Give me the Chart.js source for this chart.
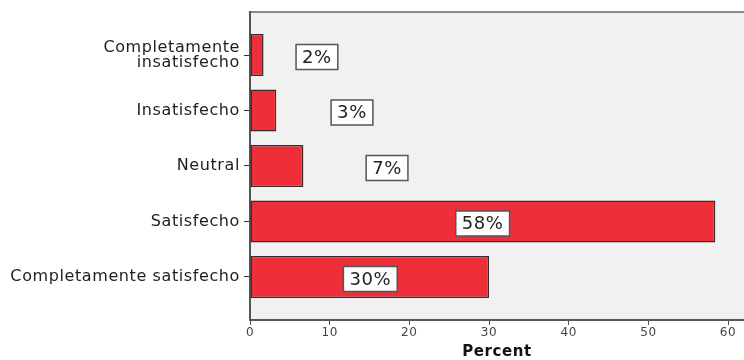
<!DOCTYPE html>
<html>
<head>
<meta charset="utf-8">
<script src="https://cdn.jsdelivr.net/npm/chart.js@4"></script>
<style>
  html, body { margin: 0; padding: 0; background: #fff; }
  #wrap { width: 744px; height: 360px; position: relative; }
</style>
</head>
<body>
<div id="wrap"><canvas id="barChart"></canvas></div>
<script>
// categorías y porcentajes
const categories = [['Completamente', 'insatisfecho'], 'Insatisfecho', 'Neutral', 'Satisfecho', 'Completamente satisfecho'];
const percents = [1.7, 3.3, 6.7, 58.4, 30.0];
const labelAt = [8.4, 12.8, 17.2, 29.2, 15.1];   // dónde caen las etiquetas (en %)
const xTicks = [0, 10, 20, 30, 40, 50, 60];

const FONT = '"DejaVu Sans", sans-serif';

// fondo gris del área y la línea superior; el texto del original es algo más ancho
const plotBg = {
    id: 'plotBg',
    beforeDraw(chart) {
        const { ctx, chartArea: a } = chart;
        ctx.letterSpacing = '0.6px';
        ctx.save();
        ctx.fillStyle = '#f0f1f0';
        ctx.fillRect(a.left, a.top, a.right - a.left, a.bottom - a.top);
        ctx.strokeStyle = '#666';
        ctx.lineWidth = 1.5;
        ctx.beginPath();
        ctx.moveTo(a.left, a.top);
        ctx.lineTo(a.right, a.top);
        ctx.stroke();
        ctx.restore();
    },
    afterDraw(chart) {
        chart.ctx.letterSpacing = '0px';
    }
};

// etiquetas de porcentaje en cajitas blancas
const boxLabels = {
    id: 'boxLabels',
    afterDatasetsDraw(chart) {
        const { ctx, scales } = chart;
        ctx.save();
        ctx.font = '18px ' + FONT;
        ctx.textAlign = 'center';
        ctx.textBaseline = 'middle';
        percents.forEach((v, i) => {
            const txt = Math.round(v) + '%';
            const x = scales.x.getPixelForValue(labelAt[i]);
            const y = scales.y.getPixelForValue(i) + 2;
            const w = ctx.measureText(txt).width + 12;
            const h = 25;
            ctx.fillStyle = '#fff';
            ctx.fillRect(x - w / 2, y - h / 2, w, h);
            ctx.strokeStyle = '#555';
            ctx.lineWidth = 1.5;
            ctx.strokeRect(x - w / 2, y - h / 2, w, h);
            ctx.fillStyle = '#222';
            ctx.fillText(txt, x, y + 1);
        });
        ctx.restore();
    }
};

new Chart(document.getElementById('barChart'), {
    type: 'bar',
    data: {
        datasets: [{
            data: percents.map((v, i) => ({ x: v, y: i })),
            backgroundColor: '#ee2f3a',
            borderColor: '#3d2b2b',
            borderWidth: 1.5,
            borderSkipped: false,
            barPercentage: 0.757,
            categoryPercentage: 1
        }]
    },
    options: {
        indexAxis: 'y',
        responsive: true,
        maintainAspectRatio: false,
        animation: false,
        layout: { padding: { top: 12, right: 0, left: 0, bottom: 0 } },
        plugins: {
            legend: { display: false },
            tooltip: { enabled: false }
        },
        scales: {
            x: {
                type: 'linear',
                min: 0,
                max: 62,
                afterBuildTicks: s => { s.ticks = xTicks.map(v => ({ value: v })); },
                afterFit: s => { s.height = 40; },
                border: { display: true, color: '#555', width: 2 },
                grid: { drawOnChartArea: false, drawTicks: true, tickLength: 5, color: '#555' },
                ticks: { color: '#444', font: { family: FONT, size: 12 }, padding: 1, maxRotation: 0 },
                title: {
                    display: true,
                    text: 'Percent',
                    color: '#111',
                    font: { family: FONT, size: 15, weight: 'bold', lineHeight: 1 },
                    padding: { top: 0, bottom: 0 }
                }
            },
            y: {
                type: 'linear',
                reverse: true,
                offset: false,
                min: -0.775,
                max: 4.775,
                afterBuildTicks: s => { s.ticks = categories.map((_, i) => ({ value: i })); },
                afterFit: s => { s.width = 250; },
                border: { display: true, color: '#555', width: 2 },
                grid: { offset: false, drawOnChartArea: false, drawTicks: true, tickLength: 6, color: '#333' },
                ticks: {
                    color: '#1e1e1e',
                    font: { family: FONT, size: 16, lineHeight: 0.95 },
                    padding: 4,
                    callback: v => categories[v]
                }
            }
        }
    },
    plugins: [plotBg, boxLabels]
});
</script>
</body>
</html>
